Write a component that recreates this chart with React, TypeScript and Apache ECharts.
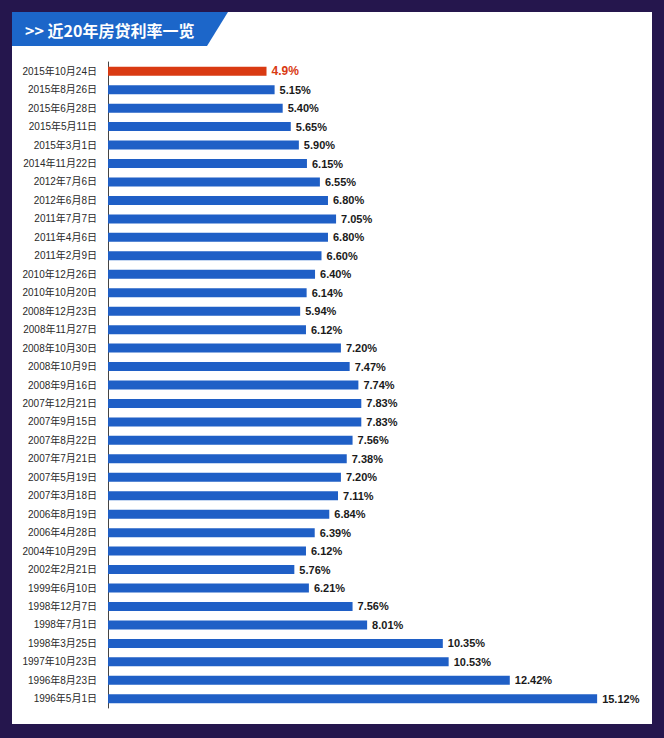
import React, { useEffect, useRef } from "react";
import * as echarts from "echarts";

const categories = [
  "2015年10月24日", "2015年8月26日", "2015年6月28日", "2015年5月11日", "2015年3月1日",
  "2014年11月22日", "2012年7月6日", "2012年6月8日", "2011年7月7日", "2011年4月6日",
  "2011年2月9日", "2010年12月26日", "2010年10月20日", "2008年12月23日", "2008年11月27日",
  "2008年10月30日", "2008年10月9日", "2008年9月16日", "2007年12月21日", "2007年9月15日",
  "2007年8月22日", "2007年7月21日", "2007年5月19日", "2007年3月18日", "2006年8月19日",
  "2006年4月28日", "2004年10月29日", "2002年2月21日", "1999年6月10日", "1998年12月7日",
  "1998年7月1日", "1998年3月25日", "1997年10月23日", "1996年8月23日", "1996年5月1日",
];

const rates = [
  4.9, 5.15, 5.4, 5.65, 5.9,
  6.15, 6.55, 6.8, 7.05, 6.8,
  6.6, 6.4, 6.14, 5.94, 6.12,
  7.2, 7.47, 7.74, 7.83, 7.83,
  7.56, 7.38, 7.2, 7.11, 6.84,
  6.39, 6.12, 5.76, 6.21, 7.56,
  8.01, 10.35, 10.53, 12.42, 15.12,
];

const rateLabels = [
  "4.9%", "5.15%", "5.40%", "5.65%", "5.90%",
  "6.15%", "6.55%", "6.80%", "7.05%", "6.80%",
  "6.60%", "6.40%", "6.14%", "5.94%", "6.12%",
  "7.20%", "7.47%", "7.74%", "7.83%", "7.83%",
  "7.56%", "7.38%", "7.20%", "7.11%", "6.84%",
  "6.39%", "6.12%", "5.76%", "6.21%", "7.56%",
  "8.01%", "10.35%", "10.53%", "12.42%", "15.12%",
];

const title = ">> 近20年房贷利率一览";

export default function App() {
  const ref = useRef<HTMLDivElement>(null);
  useEffect(() => {
    if (!ref.current) return;
    const chart = echarts.init(ref.current, undefined, { renderer: "svg" });
    const BLUE = "#1f5fc6";
    const RED = "#d93a12";
    chart.setOption({
      animation: false,
      backgroundColor: "#25164d",
      graphic: [
        {
          type: "rect",
          z: -10,
          shape: { x: 12, y: 12, width: 640, height: 712 },
          style: { fill: "#ffffff" },
          silent: true,
        },
        {
          type: "polygon",
          z: 10,
          shape: { points: [[12, 12], [228, 12], [207, 46], [12, 46]] },
          style: { fill: "#1c66c9" },
          silent: true,
        },
        {
          type: "text",
          z: 11,
          x: 25,
          y: 30,
          style: {
            text: title,
            fill: "#ffffff",
            fontSize: 16,
            fontWeight: "bold",
            fontFamily: "'Noto Sans CJK SC', sans-serif",
            verticalAlign: "middle",
          },
          silent: true,
        },
      ],
      grid: { left: 108, top: 62, width: 517.6, height: 646 },
      xAxis: {
        type: "value",
        min: 0,
        max: 16,
        show: false,
      },
      yAxis: {
        type: "category",
        data: categories,
        inverse: true,
        axisLine: { show: true, lineStyle: { color: "#444", width: 1 } },
        axisTick: { show: false },
        axisLabel: {
          color: "#2a2a2a",
          fontSize: 10,
          margin: 11,
          fontFamily: "'Liberation Sans', 'Noto Sans CJK SC', sans-serif",
        },
      },
      series: [
        {
          type: "bar",
          barWidth: 9,
          data: rates.map((v, i) => ({
            value: v,
            itemStyle: { color: i === 0 ? RED : BLUE },
            label: {
              show: true,
              position: "right",
              distance: 5,
              formatter: rateLabels[i],
              color: i === 0 ? RED : "#1a1a1a",
              fontSize: i === 0 ? 12 : 11,
              fontWeight: "bold",
              fontFamily: "'Liberation Sans', sans-serif",
            },
          })),
        },
      ],
    });
    return () => chart.dispose();
  }, []);
  return (
    <div
      ref={ref}
      style={{ position: "absolute", left: 0, top: 0, width: 664, height: 738 }}
    />
  );
}
